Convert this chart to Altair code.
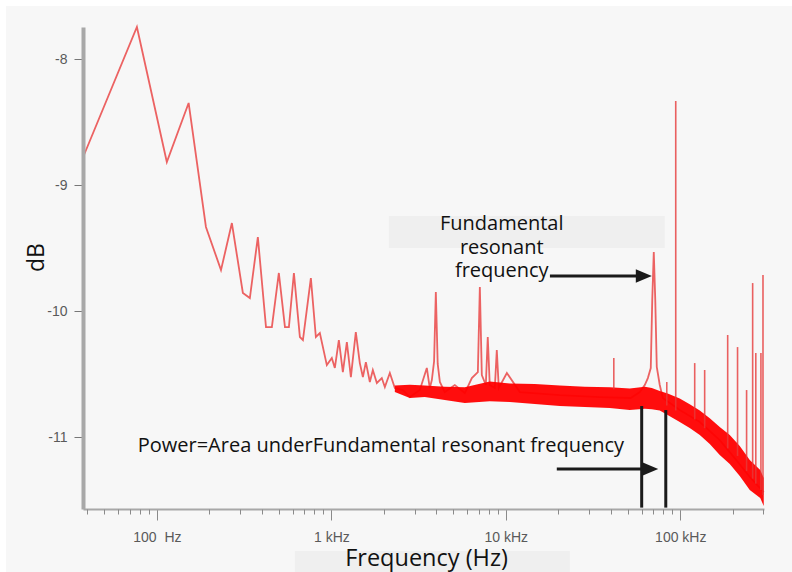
import altair as alt
import pandas as pd

# ---------------- data ----------------
# main spectrum trace
main_freq = [38.2, 76.8, 114, 152, 191, 233, 269, 311, 341, 379, 422, 456, 500, 542, 571,
             610, 660, 687, 763, 815, 859, 942, 1006, 1047, 1104, 1164, 1227, 1294, 1381,
             1456, 1516, 1577, 1662, 1729, 1823, 1946, 2026, 2164, 2311, 2570, 2818, 3215,
             3525, 3666, 3767, 3880, 3971, 4070, 4188, 4467, 5100, 5823, 6386, 6914, 7099,
             7286, 7680, 7880, 8090, 8650, 8878, 9115, 10140, 12030, 20400, 34560, 52000,
             58600, 62600, 65200, 67750, 69100, 70500, 71900, 73340, 76300, 79400, 99300,
             129400, 168400, 205200, 250200, 301000]
main_db = [-8.762, -7.746, -8.817, -8.349, -9.333, -9.675, -9.302, -9.857, -9.897, -9.413,
           -10.127, -10.127, -9.698, -10.127, -10.127, -9.698, -10.206, -10.230, -9.738,
           -10.206, -10.175, -10.429, -10.373, -10.452, -10.230, -10.484, -10.246, -10.524,
           -10.167, -10.413, -10.524, -10.405, -10.563, -10.468, -10.571, -10.532, -10.603,
           -10.492, -10.611, -10.627, -10.683, -10.627, -10.452, -10.611, -10.548, -10.40,
           -9.849, -10.42, -10.563, -10.643, -10.587, -10.651, -10.532, -10.484, -9.810,
           -10.508, -10.587, -10.206, -10.587, -10.611, -10.310, -10.611, -10.492, -10.643,
           -10.667, -10.683, -10.690, -10.643, -10.587, -10.532, -10.452, -9.913, -9.532,
           -9.913, -10.444, -10.587, -10.690, -10.786, -10.881, -11.024, -11.167, -11.317,
           -11.437]

# dense noise band (lower / upper edge)
band_freq = [2311, 2818, 3430, 4467, 5820, 8090, 10540, 14660, 20400, 28360, 39450,
             51360, 62660, 68700, 76300, 84700, 99300, 113300, 129400, 147600, 168400,
             192200, 219300, 250200, 287300, 301000]
band_lo = [-10.643, -10.690, -10.683, -10.706, -10.730, -10.715, -10.722, -10.738,
           -10.754, -10.762, -10.770, -10.786, -10.776, -10.780, -10.790, -10.825, -10.881,
           -10.929, -10.984, -11.056, -11.143, -11.214, -11.310, -11.421, -11.484, -11.548]
band_hi = [-10.590, -10.585, -10.590, -10.600, -10.605, -10.560, -10.575, -10.580,
           -10.590, -10.600, -10.605, -10.615, -10.600, -10.610, -10.635, -10.655, -10.695,
           -10.740, -10.790, -10.850, -10.921, -10.984, -11.071, -11.183, -11.262, -11.325]

# narrow spectral lines
spike_freq = [41600, 83700, 94200, 121000, 138000, 187000, 213000, 240000, 260000, 271000,
              290000, 298000]
spike_base = [-10.62, -10.75, -10.79, -10.86, -10.93, -11.09, -11.15, -11.27, -11.33, -11.37,
              -11.42, -11.46]
spike_top = [-10.373, -10.563, -8.333, -10.413, -10.468, -10.190, -10.286, -10.627, -9.778,
             -10.333, -10.333, -9.714]

# integration limits around the fundamental
marker_freq = [60100, 82600]
marker_top = [-10.754, -10.786]
marker_bottom = [-11.56, -11.56]

# arrows (y level, start, end of shaft, head centre)
arrow_db = [-9.722, -11.254]
arrow_start = [17900, 19600]
arrow_end = [62000, 66000]
arrow_head = [61800, 67300]

# annotation texts
note_text = ["Fundamental", "resonant", "frequency",
             "Power=Area underFundamental resonant frequency"]
note_freq = [9480, 9480, 9480, 1922]
note_db = [-9.357, -9.548, -9.733, -11.119]

# light boxes behind texts
box_f1 = [2136, 618]
box_f2 = [81500, 23300]
box_d1 = [-9.246, -11.905]
box_d2 = [-9.50, -12.08]

major_ticks = [100, 1000, 10000, 100000]
minor_ticks = [40, 50, 60, 70, 80, 90, 200, 300, 400, 500, 600, 700, 800, 900,
               2000, 3000, 4000, 5000, 6000, 7000, 8000, 9000,
               20000, 30000, 40000, 50000, 60000, 70000, 80000, 90000, 200000, 300000]
y_ticks = [-8, -9, -10, -11]

x_domain = [37.7, 302000]
y_domain = [-11.571, -7.746]

# ---------------- tables ----------------
main_df = pd.DataFrame({"f": main_freq, "db": main_db})
band_df = pd.DataFrame({"f": band_freq, "lo": band_lo, "hi": band_hi})
spike_df = pd.DataFrame({"f": spike_freq, "base": spike_base, "top": spike_top})
marker_df = pd.DataFrame({"f": marker_freq, "top": marker_top, "bottom": marker_bottom})
arrow_df = pd.DataFrame({"db": arrow_db, "f": arrow_start, "f2": arrow_end, "head": arrow_head})
note_df = pd.DataFrame({"text": note_text, "f": note_freq, "db": note_db})
box_df = pd.DataFrame({"f": box_f1, "f2": box_f2, "d1": box_d1, "d2": box_d2})

xs = alt.Scale(type="log", domain=x_domain, nice=False)
ys = alt.Scale(domain=y_domain, nice=False, zero=False)

label_expr = ("datum.value == 100 ? '100\u00a0 Hz' : datum.value == 1000 ? '1 kHz' : "
              "datum.value == 10000 ? '10 kHz' : '100 kHz'")

major_axis = alt.Axis(values=major_ticks, labelExpr=label_expr, orient="bottom",
                      tickSize=11, tickColor="#8a8a8a", tickWidth=1,
                      domainColor="#a8a8a8", domainWidth=2, labelPadding=10,
                      labelFont="Liberation Sans", labelFontSize=14, labelColor="#5a5a5a",
                      grid=False, title="Frequency (Hz)", titleFont="Open Sans",
                      titleFontSize=23.5, titleFontWeight="normal", titleColor="#111111",
                      titleX=343, titleY=56, titleBaseline="alphabetic", zindex=1)
minor_axis = alt.Axis(values=minor_ticks, labels=False, orient="bottom", tickSize=5,
                      tickColor="#8a8a8a", tickWidth=1, domain=False, grid=False,
                      title=None, zindex=1)
y_axis = alt.Axis(values=y_ticks, labelExpr="'-' + abs(datum.value)", tickSize=9,
                  tickColor="#777777", domainColor="#a8a8a8", domainWidth=4,
                  labelPadding=7, labelFont="Liberation Sans", labelFontSize=14,
                  labelColor="#5a5a5a", grid=False, title="dB", titleFont="Open Sans",
                  titleFontSize=23, titleFontWeight="normal", titleColor="#111111",
                  titleAngle=270, titleBaseline="bottom", titleX=-35, titleY=230, zindex=1)

panel = alt.Chart(pd.DataFrame({"k": [0]})).mark_rect(color="#f7f7f7").encode(
    x=alt.value(-77), x2=alt.value(709), y=alt.value(-21), y2=alt.value(545))

boxes = alt.Chart(box_df).mark_rect(color="#efefef").encode(
    x=alt.X("f:Q", scale=xs, axis=None), x2="f2:Q",
    y=alt.Y("d1:Q", scale=ys, axis=y_axis), y2="d2:Q")

line = alt.Chart(main_df).mark_line(color="#e83c3c", strokeWidth=1.8, opacity=0.8).encode(
    x=alt.X("f:Q", scale=xs, axis=major_axis),
    y=alt.Y("db:Q", scale=ys, axis=y_axis))

band = alt.Chart(band_df).mark_area(color="#ff0000", opacity=0.95).encode(
    x=alt.X("f:Q", scale=xs, axis=minor_axis),
    y=alt.Y("lo:Q", scale=ys, axis=y_axis), y2="hi:Q")

spikes = alt.Chart(spike_df).mark_rule(color="#e63a3a", strokeWidth=1.6, opacity=0.8).encode(
    x=alt.X("f:Q", scale=xs, axis=None),
    y=alt.Y("base:Q", scale=ys, axis=y_axis), y2="top:Q")

markers = alt.Chart(marker_df).mark_rule(color="#1a1a1a", strokeWidth=3).encode(
    x=alt.X("f:Q", scale=xs, axis=None),
    y=alt.Y("top:Q", scale=ys, axis=y_axis), y2="bottom:Q")

shafts = alt.Chart(arrow_df).mark_rule(color="#1a1a1a", strokeWidth=3).encode(
    x=alt.X("f:Q", scale=xs, axis=None), x2="f2:Q",
    y=alt.Y("db:Q", scale=ys, axis=y_axis))

heads = alt.Chart(arrow_df).mark_point(shape="M-1,-0.85L1,0L-1,0.85Z", size=256, filled=True,
                                       color="#1a1a1a", opacity=1).encode(
    x=alt.X("head:Q", scale=xs, axis=None),
    y=alt.Y("db:Q", scale=ys, axis=y_axis))

notes = alt.Chart(note_df).mark_text(font="Open Sans", fontSize=20, color="#111111",
                                     align="center", baseline="alphabetic").encode(
    x=alt.X("f:Q", scale=xs, axis=None),
    y=alt.Y("db:Q", scale=ys, axis=y_axis),
    text="text:N")

chart = alt.layer(panel, boxes, line, band, spikes, markers, shafts, heads, notes).resolve_axis(
    x="independent"
).properties(
    width=681, height=482,
    autosize=alt.AutoSizeParams(type="none"),
    padding={"left": 83, "top": 27, "right": 28, "bottom": 63},
    background="white",
).configure_view(stroke=None)

chart.save("out.html", embed_options={"renderer": "svg", "actions": False})
